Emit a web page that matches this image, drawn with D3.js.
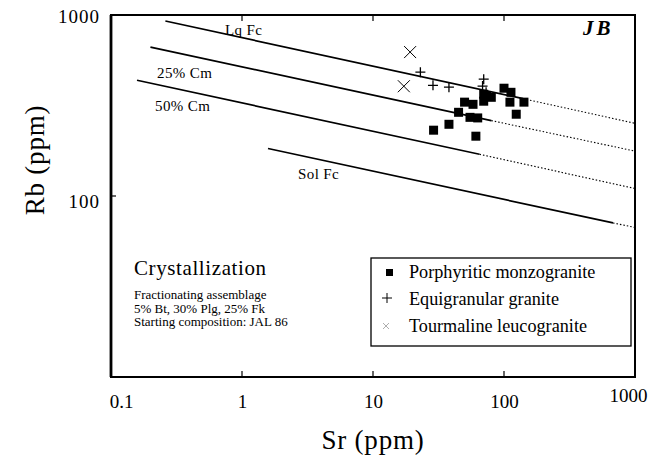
<!DOCTYPE html>
<html>
<head>
<meta charset="utf-8">
<script src="https://cdn.jsdelivr.net/npm/d3@7"></script>
<style>
  html, body { margin: 0; padding: 0; background: #fff; }
  svg { display: block; }
  text { font-family: "Liberation Serif", serif; fill: #000; }
</style>
</head>
<body>
<svg id="chart" width="651" height="459"></svg>
<script>
// Sr (ppm) and Rb (ppm) for each sample group
const porphyriticSr = [29, 38, 61, 45, 50, 58, 55, 63, 70, 80, 100, 113, 111, 142, 124, 70];
const porphyriticRb = [231, 249, 214, 290, 330, 321, 272, 270, 365, 351, 394, 374, 330, 330, 283, 334];

const equigranularSr = [23, 28.7, 38, 70, 68.6, 73];
const equigranularRb = [483, 409, 399, 442, 405, 374];

const tourmalineSr = [19.2, 17.2];
const tourmalineRb = [624, 404];

// Crystallization trends: start, end of solid part, end of dotted extension
const trendNames = ["Lq Fc", "25% Cm", "50% Cm", "Sol Fc"];
const trendSr = [
  [0.26, 140, 1000],
  [0.20, 80, 1000],
  [0.158, 65, 1000],
  [1.58, 680, 1000]
];
const trendRb = [
  [926, 345, 252],
  [665, 261, 177],
  [436, 170, 110],
  [183, 71, 67]
];

const xTicks = [0.1, 1, 10, 100, 1000];
const yTicks = [100, 1000];

const legendLabels = ["Porphyritic monzogranite", "Equigranular granite", "Tourmaline leucogranite"];

const FONT = "\"Liberation Serif\", serif";

const svg = d3.select("#chart");
const plotLeft = 111, plotRight = 635, plotTop = 15, plotBottom = 377;

const x = d3.scaleLog().domain([0.1, 1000]).range([plotLeft, plotRight]);
const y = d3.scaleLog().domain([10, 1000]).range([plotBottom, plotTop]);

// trend lines: solid segment then dotted extension
const line = d3.line().x(d => x(d[0])).y(d => y(d[1]));
trendSr.forEach((srs, i) => {
  const pts = srs.map((s, j) => [s, trendRb[i][j]]);
  svg.append("path").attr("d", line(pts.slice(0, 2)))
    .attr("fill", "none").attr("stroke", "#000").attr("stroke-width", 1.7);
  svg.append("path").attr("d", line(pts.slice(1, 3)))
    .attr("fill", "none").attr("stroke", "#000").attr("stroke-width", 1.1)
    .attr("stroke-dasharray", "1.5,2");
});

// trend labels
const trendLabelPos = [[225, 35], [157, 78], [155, 111], [298, 179]];
trendNames.forEach((n, i) => {
  svg.append("text").attr("x", trendLabelPos[i][0]).attr("y", trendLabelPos[i][1])
    .attr("font-size", 15).attr("letter-spacing", 0.4).text(n);
});

// axes
const gx = svg.append("g").attr("transform", `translate(0,${plotBottom})`)
  .call(d3.axisBottom(x).tickValues(xTicks).tickSize(0).tickPadding(18)
    .tickFormat(d => d < 1 ? "0.1" : d3.format("d")(d)));
gx.select(".domain").remove();
gx.selectAll("text").attr("font-size", 19).style("font-family", FONT);
gx.selectAll(".tick").filter(d => d === 0.1).select("text").attr("dx", 10);
gx.selectAll(".tick").filter(d => d === 1000).select("text").attr("dx", -7).attr("dy", "0.38em");

const gy = svg.append("g").attr("transform", `translate(${plotLeft},0)`)
  .call(d3.axisLeft(y).tickValues(yTicks).tickSize(0).tickPadding(11)
    .tickFormat(d3.format("d")));
gy.select(".domain").remove();
gy.selectAll("text").attr("font-size", 19).attr("letter-spacing", 1).style("font-family", FONT);
gy.selectAll(".tick").filter(d => d === 1000).select("text").attr("dy", "0.37em");
gy.selectAll(".tick").filter(d => d === 100).select("text").attr("dy", "0.58em");

// inward tick marks
[1, 10, 100].forEach(v => {
  svg.append("line").attr("x1", x(v)).attr("x2", x(v)).attr("y1", plotBottom).attr("y2", plotBottom - 6)
    .attr("stroke", "#000").attr("stroke-width", 1.2);
  svg.append("line").attr("x1", x(v)).attr("x2", x(v)).attr("y1", plotTop).attr("y2", plotTop + 6)
    .attr("stroke", "#000").attr("stroke-width", 1.2);
});
svg.append("line").attr("x1", plotLeft).attr("x2", plotLeft + 5).attr("y1", y(100)).attr("y2", y(100))
  .attr("stroke", "#000").attr("stroke-width", 1.2);

// frame
svg.append("rect").attr("x", plotLeft).attr("y", plotTop)
  .attr("width", plotRight - plotLeft).attr("height", plotBottom - plotTop)
  .attr("fill", "none").attr("stroke", "#000").attr("stroke-width", 2);
svg.append("line").attr("x1", plotLeft).attr("x2", plotLeft).attr("y1", plotTop).attr("y2", plotBottom)
  .attr("stroke", "#000").attr("stroke-width", 2.8);

// data points
svg.append("g").selectAll("rect").data(porphyriticSr.map((s, i) => [s, porphyriticRb[i]]))
  .join("rect").attr("x", d => x(d[0]) - 4.5).attr("y", d => y(d[1]) - 4.5)
  .attr("width", 9).attr("height", 9).attr("fill", "#000");

svg.append("g").selectAll("path").data(equigranularSr.map((s, i) => [s, equigranularRb[i]]))
  .join("path")
  .attr("d", d => `M${x(d[0]) - 5},${y(d[1])}h10M${x(d[0])},${y(d[1]) - 5}v10`)
  .attr("stroke", "#000").attr("stroke-width", 1.3).attr("fill", "none");

svg.append("g").selectAll("path").data(tourmalineSr.map((s, i) => [s, tourmalineRb[i]]))
  .join("path")
  .attr("d", d => `M${x(d[0]) - 6},${y(d[1]) - 6}l12,12M${x(d[0]) + 6},${y(d[1]) - 6}l-12,12`)
  .attr("stroke", "#000").attr("stroke-width", 1).attr("fill", "none");

// JB tag
svg.append("text").attr("x", 583).attr("y", 35).attr("font-size", 21).attr("letter-spacing", 3)
  .attr("font-weight", "bold").attr("font-style", "italic").text("JB");

// crystallization note
svg.append("text").attr("x", 134).attr("y", 275).attr("font-size", 21).attr("letter-spacing", 0.6)
  .text("Crystallization");
const notes = ["Fractionating assemblage", "5% Bt, 30% Plg, 25% Fk", "Starting composition: JAL 86"];
notes.forEach((t, i) => {
  svg.append("text").attr("x", 134).attr("y", 299 + i * 13.5).attr("font-size", 13).text(t);
});

// legend
svg.append("rect").attr("x", 371).attr("y", 258).attr("width", 260).attr("height", 88)
  .attr("fill", "#fff").attr("stroke", "#000").attr("stroke-width", 1.3);
const ly = [272, 299, 326];
svg.append("rect").attr("x", 386).attr("y", ly[0] - 3).attr("width", 7).attr("height", 7).attr("fill", "#000");
svg.append("path").attr("d", `M382,${ly[1] - 1}h10M387,${ly[1] - 6}v10`).attr("stroke", "#000").attr("stroke-width", 1);
svg.append("path").attr("d", `M383,${ly[2] - 3}l6,6M389,${ly[2] - 3}l-6,6`).attr("stroke", "#999").attr("stroke-width", 0.8);
legendLabels.forEach((t, i) => {
  svg.append("text").attr("x", 409).attr("y", ly[i] + 6).attr("font-size", 18.2).text(t);
});

// axis titles
svg.append("text").attr("x", 373).attr("y", 449).attr("text-anchor", "middle")
  .attr("font-size", 27).attr("letter-spacing", 0.8).text("Sr (ppm)");
svg.append("text").attr("transform", "translate(44,160) rotate(-90)").attr("text-anchor", "middle")
  .attr("font-size", 27).attr("letter-spacing", 0.8).text("Rb (ppm)");
</script>
</body>
</html>
